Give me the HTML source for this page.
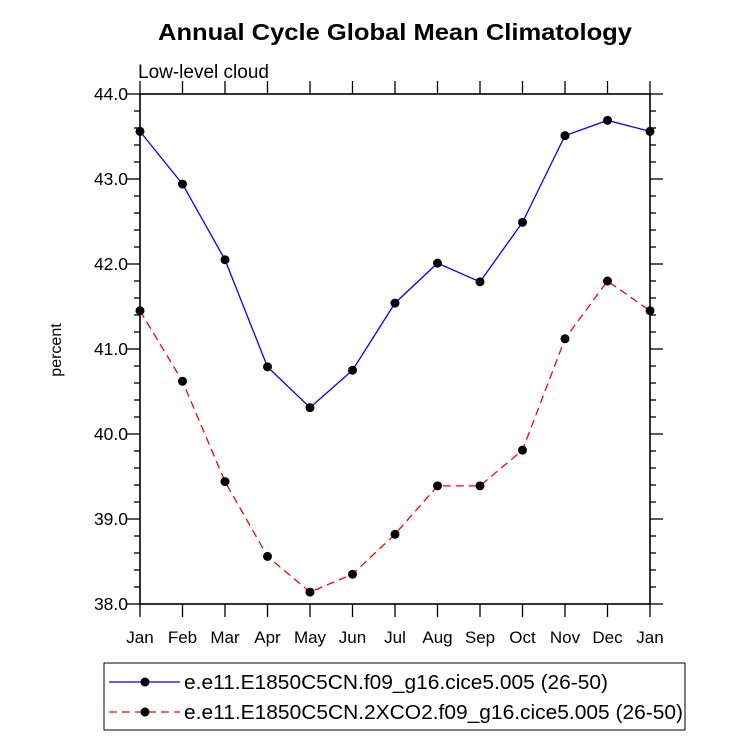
<!DOCTYPE html>
<html><head><meta charset="utf-8"><style>body{margin:0;background:#fff}svg{display:block;font-family:"Liberation Sans",sans-serif}</style></head>
<body>
<svg id="c" width="733" height="737">
<text x="395" y="40" text-anchor="middle" font-size="23" font-weight="bold" textLength="474" lengthAdjust="spacingAndGlyphs">Annual Cycle Global Mean Climatology</text>
<text x="138" y="78" font-size="19">Low-level cloud</text>
<text transform="translate(61,350) rotate(-90)" text-anchor="middle" font-size="16">percent</text>
<g id="axes"></g><g id="marks"></g>
<rect x="104" y="663" width="581" height="67" fill="none" stroke="#000" stroke-width="1"/>
<g><line x1="109" y1="682" x2="180" y2="682" stroke="#00f" stroke-width="1.3"/><circle cx="145" cy="682" r="4.5"/><text x="184" y="689" font-size="20" textLength="424" lengthAdjust="spacingAndGlyphs">e.e11.E1850C5CN.f09_g16.cice5.005 (26-50)</text></g>
<g><line x1="109" y1="712" x2="180" y2="712" stroke="#f00" stroke-width="1.3" stroke-dasharray="8,5"/><circle cx="145" cy="712" r="4.5"/><text x="184" y="719" font-size="20" textLength="499" lengthAdjust="spacingAndGlyphs">e.e11.E1850C5CN.2XCO2.f09_g16.cice5.005 (26-50)</text></g>
</svg>
<script>
const months=["Jan","Feb","Mar","Apr","May","Jun","Jul","Aug","Sep","Oct","Nov","Dec","Jan"];
const control=[43.56,42.94,42.05,40.79,40.31,40.75,41.54,42.01,41.79,42.49,43.51,43.69,43.56];
const co2=[41.45,40.62,39.44,38.56,38.14,38.35,38.82,39.39,39.39,39.81,41.12,41.80,41.45];
const yTicks=["38.0","39.0","40.0","41.0","42.0","43.0","44.0"];
const NS="http://www.w3.org/2000/svg";
const L=140,R=650,T=94,B=604,ymin=38,ymax=44;
const x=i=>L+(R-L)*i/(months.length-1);
const y=v=>B-(v-ymin)/(ymax-ymin)*(B-T);
const ax=document.getElementById('axes'),mk=document.getElementById('marks');
function el(t,a,p){const e=document.createElementNS(NS,t);for(const k in a)e.setAttribute(k,a[k]);p.appendChild(e);return e;}
const fr=el('rect',{x:L,y:T,width:R-L,height:B-T,fill:'none',stroke:'#000','stroke-width':1.6},ax);


for(let v=ymin;v<=ymax+1e-9;v+=0.2){const maj=Math.abs(v-Math.round(v))<1e-6;const len=maj?13:6;
el('line',{x1:L-len,y1:y(v),x2:L,y2:y(v),stroke:'#000','stroke-width':1.3},ax);
el('line',{x1:R,y1:y(v),x2:R+len,y2:y(v),stroke:'#000','stroke-width':1.3},ax);}
yTicks.forEach(s=>{const t=el('text',{x:L-12,y:y(+s)+6,'text-anchor':'end','font-size':17.5},ax);t.textContent=s;

});
months.forEach((m,i)=>{el('line',{x1:x(i),y1:B,x2:x(i),y2:B+13,stroke:'#000','stroke-width':1.3},ax);
el('line',{x1:x(i),y1:T-13,x2:x(i),y2:T,stroke:'#000','stroke-width':1.3},ax);
const t=el('text',{x:x(i),y:B+39,'text-anchor':'middle','font-size':17},ax);t.textContent=m;

});
function series(d,c,dash,name){const p=el('polyline',{points:d.map((v,i)=>x(i)+','+y(v)).join(' '),fill:'none',stroke:c,'stroke-width':1.3,'stroke-dasharray':dash},mk);


d.forEach((v,i)=>{const c2=el('circle',{cx:x(i),cy:y(v),r:4.5,fill:'#000'},mk);

});}
series(control,'#00f','none','control');
series(co2,'#f00','8,5','2xco2');
</script>
</body></html>
